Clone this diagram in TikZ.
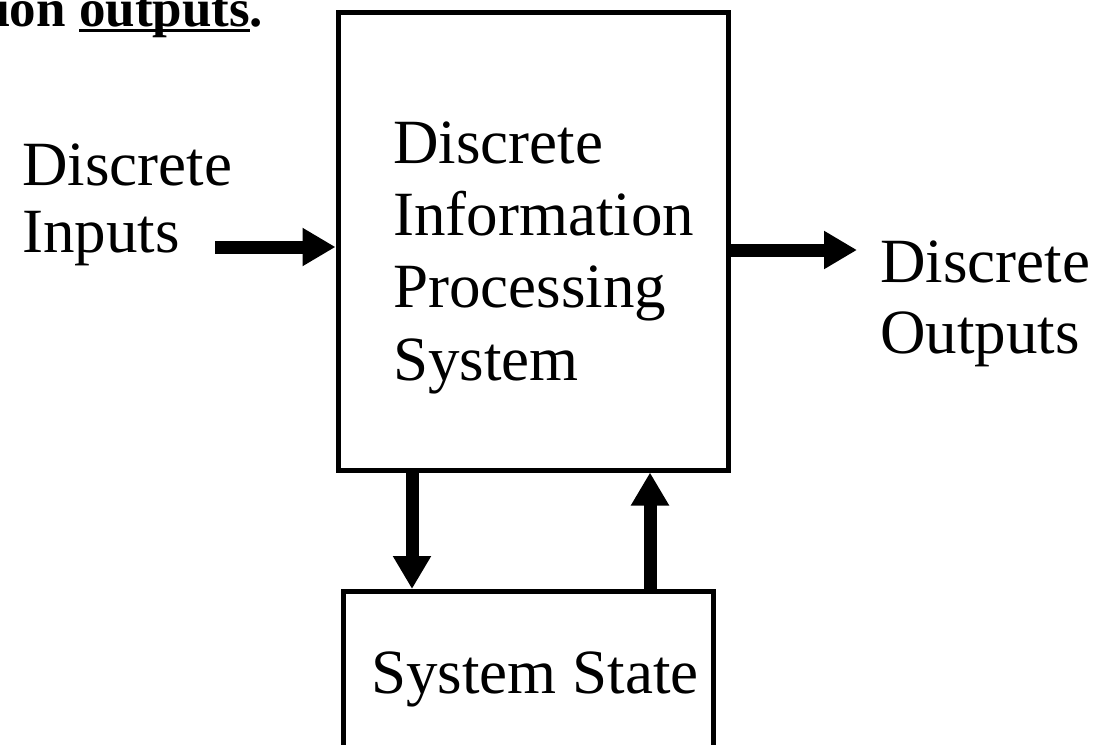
\documentclass[tikz,border=0pt]{standalone}
\usepackage{fontspec}
\setmainfont{Liberation Serif}
\usetikzlibrary{arrows.meta}
% underline sitting just below the baseline
\newcommand{\undl}[1]{\setbox0\hbox{#1}\rlap{\rule[-4.5pt]{\wd0}{3pt}}\box0}
\tikzset{
  blockbox/.style={draw=black, line width=5pt, inner sep=0pt},
  lbl/.style={inner sep=0pt, anchor=base west, align=left,
              font=\fontsize{63}{72}\selectfont},
  flow/.style={line width=13pt, -{Triangle[length=33pt,width=36pt]}},
}
\begin{document}
\begin{tikzpicture}[x=1pt, y=-1pt]
  \useasboundingbox (0,0) rectangle (1094,744);
  \clip (0,0) rectangle (1094,744);
  \fill[white] (0,0) rectangle (1094,744);

  % heading fragment (runs off the top-left corner)
  \node[inner sep=0pt, anchor=base west, font=\fontsize{53}{60}\selectfont\bfseries]
    (head) at (-5,27) {ion \undl{outputs}.};

  % processing block; multi-line labels are anchored at their last baseline
  \node[blockbox, minimum width=390pt, minimum height=458pt] (proc) at (533,241) {};
  \node[lbl, font=\fontsize{63}{72.3}\selectfont] (proctext) at (393,380)
    {Discrete\\Information\\Processing\\System};

  % state block
  \node[blockbox, minimum width=370pt, minimum height=175pt,
        font=\fontsize{63}{72}\selectfont] (state) at (528,679) {\hspace{14pt}System State};

  % side labels
  \node[lbl, font=\fontsize{63}{67}\selectfont] (inlbl) at (22,252) {Discrete\\Inputs};
  \node[lbl, font=\fontsize{63}{71}\selectfont] (outlbl) at (880,353) {Discrete\\Outputs};

  % connectors
  \coordinate (inA) at (215,247);
  \coordinate (outB) at (857,250);
  \coordinate (dnX) at (412,0);
  \coordinate (upX) at (650,0);
  \draw[flow] (inA) -- (inA -| proc.west);
  \draw[flow] (outB -| proc.east) -- (outB);
  \draw[flow] (dnX |- proc.south) -- (dnX |- state.north);
  \draw[flow] (upX |- state.north) -- (upX |- proc.south);
\end{tikzpicture}
\end{document}
